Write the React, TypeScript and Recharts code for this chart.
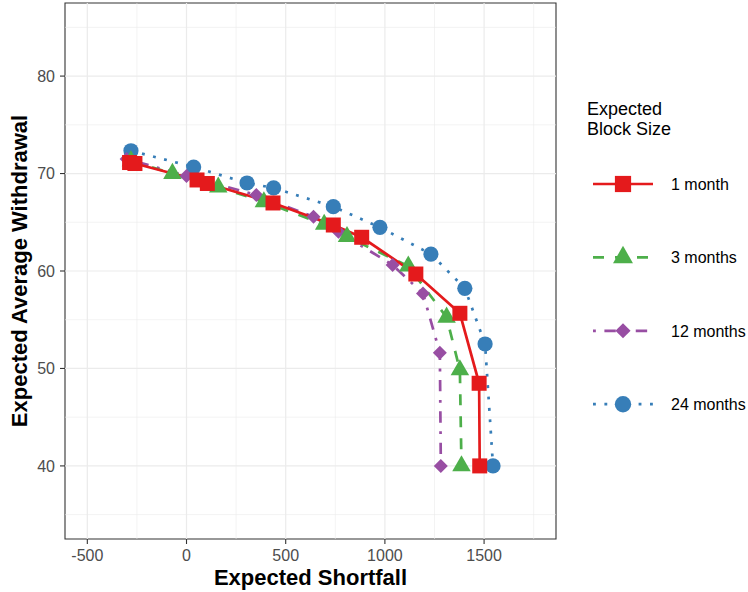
import React from 'react';
import { ScatterChart, Scatter, XAxis, YAxis, ReferenceLine, ReferenceArea } from 'recharts';

const FONT = '"Liberation Sans", Arial, Helvetica, sans-serif';

// ---- data ----
const seriesNames = ['1 month', '3 months', '12 months', '24 months'];

const oneMonthX = [-287, -260, 53, 105, 436, 740, 883, 1156, 1378, 1475, 1478];
const oneMonthY = [71.13, 71.03, 69.34, 68.98, 66.98, 64.72, 63.46, 59.69, 55.66, 48.48, 40];

const threeMonthsX = [-280, -71, 160, 390, 694, 809, 1118, 1311, 1378, 1386];
const threeMonthsY = [71.3, 70.0, 68.6, 67.1, 64.78, 63.52, 60.5, 55.25, 49.84, 40];

const twelveMonthsX = [-302, 0, 352, 640, 766, 1039, 1192, 1277, 1282];
const twelveMonthsY = [71.5, 69.75, 67.8, 65.57, 64.03, 60.61, 57.69, 51.62, 40];

const twentyFourMonthsX = [-280, 36, 305, 439, 740, 975, 1232, 1403, 1505, 1545];
const twentyFourMonthsY = [72.34, 70.67, 69.03, 68.52, 66.6, 64.48, 61.74, 58.22, 52.51, 40];

const xMajorTicks = [-500, 0, 500, 1000, 1500];
const xMinorTicks = [-250, 250, 750, 1250, 1750];
const yMajorTicks = [40, 50, 60, 70, 80];
const yMinorTicks = [35, 45, 55, 65, 75, 85];
const xDomain = [-612.5, 1862.5];
const yDomain = [32.5, 87.5];

const zip = (xs: number[], ys: number[]) => xs.map((x, i) => ({ x, y: ys[i] }));

const COLORS = ['#E41A1C', '#4DAF4A', '#984EA3', '#377EB8'];
const DASHES = ['', '11 11', '2.85 8.55 11.4 8.55', '2.85 8.55'];
const LW = 2.7;

const drawMarker = (kind: number, cx: number, cy: number, color: string, scale = 1) => {
  if (kind === 0) {
    const s = 7.5 * scale;
    return <rect x={cx - s} y={cy - s} width={2 * s} height={2 * s} fill={color} />;
  }
  if (kind === 1) {
    const w = 18.5 * scale;
    const h = w * 0.866;
    const top = cy - (2 / 3) * h;
    const bot = cy + h / 3;
    return <polygon points={`${cx},${top} ${cx - w / 2},${bot} ${cx + w / 2},${bot}`} fill={color} />;
  }
  if (kind === 2) {
    const r = 7 * scale;
    return <polygon points={`${cx},${cy - r} ${cx + r},${cy} ${cx},${cy + r} ${cx - r},${cy}`} fill={color} />;
  }
  return <circle cx={cx} cy={cy} r={7.6 * scale} fill={color} />;
};

const series = [
  { name: seriesNames[0], data: zip(oneMonthX, oneMonthY), kind: 0 },
  { name: seriesNames[1], data: zip(threeMonthsX, threeMonthsY), kind: 1 },
  { name: seriesNames[2], data: zip(twelveMonthsX, twelveMonthsY), kind: 2 },
  { name: seriesNames[3], data: zip(twentyFourMonthsX, twentyFourMonthsY), kind: 3 },
];

// draw order bottom -> top: 24, 12, 3, 1 months
const drawOrder = [3, 2, 1, 0];

const Empty = () => <g />;

export default function App() {
  return (
    <div style={{ position: 'absolute', left: 0, top: 0, width: 748, height: 592, background: '#fff' }}>
      <ScatterChart
        width={748}
        height={592}
        margin={{ top: 3, right: 192, bottom: 0, left: 0 }}
        style={{ fontFamily: FONT }}
      >
        <XAxis
          type="number"
          dataKey="x"
          domain={xDomain}
          ticks={xMajorTicks}
          allowDataOverflow
          axisLine={false}
          tickLine={{ stroke: '#333333', strokeWidth: 1.1 }}
          tickSize={5}
          tickMargin={6}
          height={53}
          tick={{ fill: '#4D4D4D', fontSize: 16, fontFamily: FONT }}
          interval={0}
        />
        <YAxis
          type="number"
          dataKey="y"
          domain={yDomain}
          ticks={yMajorTicks}
          allowDataOverflow
          axisLine={false}
          tickLine={{ stroke: '#333333', strokeWidth: 1.1 }}
          tickSize={5}
          tickMargin={5}
          width={65}
          tick={{ fill: '#4D4D4D', fontSize: 16, fontFamily: FONT }}
          interval={0}
        />
        {xMinorTicks.map((v) => (
          <ReferenceLine key={'xm' + v} x={v} stroke="#EBEBEB" strokeWidth={0.6} />
        ))}
        {yMinorTicks.map((v) => (
          <ReferenceLine key={'ym' + v} y={v} stroke="#EBEBEB" strokeWidth={0.6} />
        ))}
        {xMajorTicks.map((v) => (
          <ReferenceLine key={'xM' + v} x={v} stroke="#EBEBEB" strokeWidth={1.2} />
        ))}
        {yMajorTicks.map((v) => (
          <ReferenceLine key={'yM' + v} y={v} stroke="#EBEBEB" strokeWidth={1.2} />
        ))}
        {drawOrder.map((i) => (
          <Scatter
            key={'line' + i}
            name={series[i].name + ' line'}
            data={series[i].data}
            fill={COLORS[i]}
            line={{ stroke: COLORS[i], strokeWidth: LW, strokeDasharray: DASHES[i] || undefined }}
            lineType="joint"
            shape={Empty}
            isAnimationActive={false}
          />
        ))}
        {drawOrder.map((i) => (
          <Scatter
            key={'pts' + i}
            name={series[i].name}
            data={series[i].data}
            fill={COLORS[i]}
            shape={(p: any) => drawMarker(series[i].kind, p.cx, p.cy, COLORS[i])}
            isAnimationActive={false}
          />
        ))}
        <ReferenceArea
          x1={xDomain[0]}
          x2={xDomain[1]}
          y1={yDomain[0]}
          y2={yDomain[1]}
          fill="none"
          fillOpacity={0}
          stroke="#333333"
          strokeWidth={1.1}
          ifOverflow="visible"
        />
      </ScatterChart>
      <svg
        width={748}
        height={592}
        style={{ position: 'absolute', left: 0, top: 0, pointerEvents: 'none', fontFamily: FONT }}
      >
        <text
          transform="translate(27,271) rotate(-90)"
          textAnchor="middle"
          fontSize={22}
          fontWeight="bold"
          fill="#000"
        >
          Expected Average Withdrawal
        </text>
        <text x={310.5} y={585} textAnchor="middle" fontSize={22} fontWeight="bold" fill="#000">
          Expected Shortfall
        </text>
        <text x={587} y={115} fontSize={18} fill="#000">Expected</text>
        <text x={587} y={135} fontSize={18} fill="#000">Block Size</text>
        {series.map((s, i) => {
          const cy = 184 + i * 73.4;
          return (
            <g key={'leg' + i}>
              <line
                x1={593}
                x2={653}
                y1={cy}
                y2={cy}
                stroke={COLORS[i]}
                strokeWidth={LW}
                strokeDasharray={DASHES[i] || undefined}
              />
              {drawMarker(s.kind, 623, cy, COLORS[i], 1.08)}
              <text x={671} y={cy + 5.8} fontSize={16} fill="#000">
                {s.name}
              </text>
            </g>
          );
        })}
      </svg>
    </div>
  );
}
